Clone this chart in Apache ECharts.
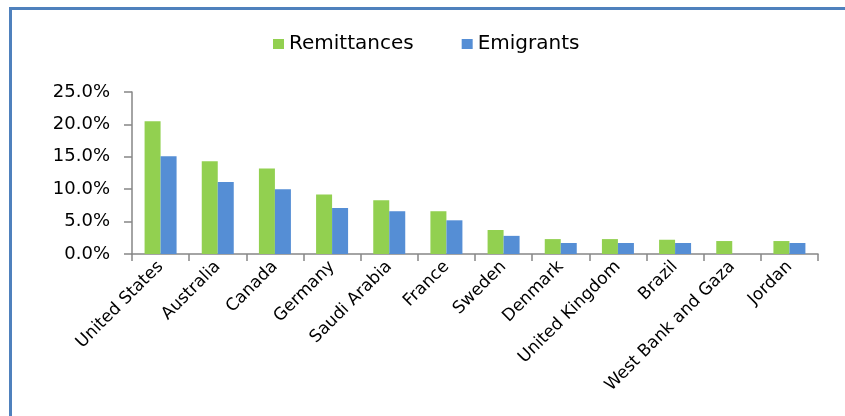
<!DOCTYPE html>
<html>
<head>
<meta charset="utf-8">
<script src="https://cdn.jsdelivr.net/npm/echarts@6/dist/echarts.min.js"></script>
<style>
html,body{margin:0;padding:0;background:#fff;}
#chart{width:845px;height:416px;}
</style>
</head>
<body>
<div id="chart"></div>
<script>
const categories = ['United States','Australia','Canada','Germany','Saudi Arabia','France','Sweden','Denmark','United Kingdom','Brazil','West Bank and Gaza','Jordan'];
const remittances = [20.5, 14.3, 13.2, 9.2, 8.3, 6.6, 3.7, 2.3, 2.3, 2.2, 2.0, 2.0];
const emigrants = [15.1, 11.1, 10.0, 7.1, 6.6, 5.2, 2.8, 1.7, 1.7, 1.7, null, 1.7];
const yTicks = [0, 5, 10, 15, 20, 25];

const chart = echarts.init(document.getElementById('chart'), null, {renderer:'canvas'});
const font = 'DejaVu Sans';
chart.setOption({
  animation: false,
  backgroundColor: '#ffffff',
  graphic: [
    {type:'line', shape:{x1:9, y1:8.5, x2:845, y2:8.5}, style:{stroke:'#4F81BD', lineWidth:3}},
    {type:'line', shape:{x1:10.5, y1:7, x2:10.5, y2:416}, style:{stroke:'#4F81BD', lineWidth:3}}
  ],
  legend: {
    data: ['Remittances','Emigrants'],
    left: 268, top: 29,
    itemWidth: 11, itemHeight: 10, itemGap: 48,
    icon: 'rect',
    textStyle: {fontFamily: font, fontSize: 20, color: '#000'}
  },
  grid: {left: 132, right: 27, top: 92, bottom: 162, containLabel: false},
  xAxis: {
    type: 'category',
    data: categories,
    axisLine: {lineStyle: {color: '#868686', width: 1.5}},
    axisTick: {show: true, length: 7, interval: 0, lineStyle: {color: '#868686', width: 1.5}},
    axisLabel: {interval: 0, rotate: 45, margin: 10, fontFamily: font, fontSize: 17, color: '#000'}
  },
  yAxis: {
    type: 'value',
    min: yTicks[0], max: yTicks[yTicks.length-1], interval: 5,
    axisLine: {show: true, lineStyle: {color: '#868686', width: 1.5}},
    axisTick: {show: true, length: 8, lineStyle: {color: '#868686', width: 1.5}},
    splitLine: {show: false},
    axisLabel: {margin: 22, fontFamily: font, fontSize: 18, color: '#000',
      formatter: v => v.toFixed(1) + '%'}
  },
  series: [
    {name: 'Remittances', type: 'bar', data: remittances, barWidth: 16, barGap: '0%',
     itemStyle: {color: '#92D050'}},
    {name: 'Emigrants', type: 'bar', data: emigrants, barWidth: 16, barGap: '0%',
     itemStyle: {color: '#558ED5'}}
  ]
});
</script>
</body>
</html>
